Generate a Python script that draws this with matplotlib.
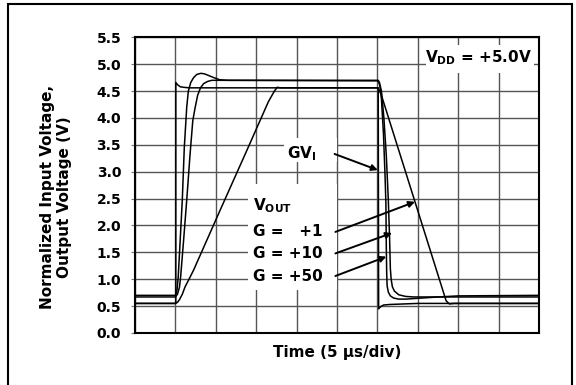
import numpy as np
import matplotlib
matplotlib.use("Agg")
import matplotlib.pyplot as plt
from matplotlib.patches import Rectangle

plt.rcParams['font.family'] = ['DejaVu Sans']
plt.rcParams['font.weight'] = 'bold'
plt.rcParams['mathtext.default'] = 'bf'

# time in divisions (5 us/div), voltage in V
t_gvi = [0, 1.01, 1.01, 1.05, 1.12, 1.2, 1.35, 6.02, 6.03, 6.08, 6.15, 6.3, 7.0, 10]
v_gvi = [0.55, 0.55, 4.66, 4.62, 4.58, 4.57, 4.56, 4.56, 0.45, 0.49, 0.52, 0.53, 0.55, 0.55]

t_g1 = [0, 1.0, 1.05, 1.1, 1.17, 1.24, 1.35, 1.45, 2.11, 2.8, 3.3, 3.45, 3.52, 3.6,
        6.02, 6.1, 6.93, 7.7, 7.78, 7.9, 10]
v_g1 = [0.55, 0.55, 0.57, 0.62, 0.72, 0.86, 1.02, 1.17, 2.29, 3.45, 4.3, 4.5, 4.57, 4.56,
        4.56, 4.42, 2.44, 0.6, 0.54, 0.55, 0.55]

t_g10 = [0, 1.0, 1.05, 1.1, 1.13, 1.2, 1.28, 1.36, 1.43, 1.49, 1.55, 1.62, 1.7, 1.8, 1.9, 2.2,
         6.02, 6.05, 6.1, 6.16, 6.22, 6.27, 6.3, 6.32, 6.34, 6.37, 6.42, 6.53, 6.7, 6.9, 7.5, 10]
v_g10 = [0.67, 0.67, 0.72, 0.85, 1.05, 1.7, 2.47, 3.3, 3.95, 4.2, 4.42, 4.56, 4.64, 4.68, 4.7, 4.7,
         4.7, 4.66, 4.5, 4.0, 3.3, 2.47, 1.8, 1.2, 1.0, 0.86, 0.78, 0.71, 0.68, 0.67, 0.67, 0.67]

t_g50 = [0, 1.0, 1.04, 1.07, 1.12, 1.17, 1.22, 1.28, 1.32, 1.38, 1.45, 1.53, 1.63, 1.72, 1.82,
         1.95, 2.1, 2.3, 6.02, 6.06, 6.1, 6.15, 6.19, 6.21, 6.22, 6.23, 6.24, 6.27, 6.32, 6.4,
         6.53, 6.7, 7.0, 7.5, 8.0, 10]
v_g50 = [0.70, 0.70, 0.8, 1.05, 1.75, 2.47, 3.45, 4.2, 4.5, 4.66, 4.75, 4.81, 4.83, 4.82, 4.79,
         4.75, 4.71, 4.70, 4.69, 4.6, 4.35, 3.7, 2.9, 2.4, 1.6, 1.1, 0.88, 0.76, 0.69, 0.65,
         0.63, 0.63, 0.645, 0.67, 0.69, 0.70]

y_ticks = np.arange(0, 5.51, 0.5)

fig = plt.figure(figsize=(5.76, 3.85), dpi=100)
ax = fig.add_axes([0.2344, 0.1351, 0.7014, 0.768])

for t, v in [(t_gvi, v_gvi), (t_g1, v_g1), (t_g10, v_g10), (t_g50, v_g50)]:
    ax.plot(t, v, color='black', lw=1.1, zorder=3)

ax.set_xlim(0, 10)
ax.set_ylim(0, 5.5)
ax.set_xticks(range(11))
ax.set_yticks(y_ticks)
ax.set_yticklabels([f"{y:.1f}" for y in y_ticks], fontsize=10, fontweight='bold')
ax.tick_params(axis='x', length=0, labelbottom=False)
ax.tick_params(axis='y', length=3, pad=7, color='#777777')
ax.grid(True, color='#555555', lw=1.0, zorder=0)
ax.set_axisbelow(True)
for s in ax.spines.values():
    s.set_linewidth(1.5)
    s.set_zorder(4)

ax.set_xlabel("Time (5 µs/div)", fontsize=11, fontweight='bold', va='center')
ax.xaxis.set_label_coords(0.5, -0.066)
ax.set_ylabel("Normalized Input Voltage,\nOutput Voltage (V)", fontsize=11,
              fontweight='bold', va='center', ha='center')
ax.yaxis.set_label_coords(-0.196, 0.46)

# white backgrounds behind the labels
for x0, y0, w, h in [(7.2, 4.83, 2.68, 0.52), (3.7, 3.18, 1.29, 0.44), (2.8, 0.8, 2.19, 1.97)]:
    ax.add_patch(Rectangle((x0, y0), w, h, fc='white', ec='none', zorder=2))

ax.text(8.51, 5.12, r"V$_{DD}$ = +5.0V", fontsize=11, fontweight='bold',
        ha='center', va='center', zorder=5)
ax.text(4.12, 3.33, r"GV$_{I}$", fontsize=11, fontweight='bold',
        ha='center', va='center', zorder=5)
ax.text(2.92, 2.36, r"V$_{OUT}$", fontsize=11, fontweight='bold', ha='left', va='center', zorder=5)
ax.text(2.92, 1.88, "G =   +1", fontsize=11, fontweight='bold', ha='left', va='center', zorder=5)
ax.text(2.92, 1.47, "G = +10", fontsize=11, fontweight='bold', ha='left', va='center', zorder=5)
ax.text(2.92, 1.05, "G = +50", fontsize=11, fontweight='bold', ha='left', va='center', zorder=5)

arrow = dict(arrowstyle='-|>', color='black', lw=1.4, mutation_scale=9, shrinkA=0, shrinkB=0)
ax.annotate("", xy=(6.01, 3.03), xytext=(4.94, 3.33), arrowprops=arrow, zorder=5)
ax.annotate("", xy=(6.93, 2.44), xytext=(4.96, 1.88), arrowprops=arrow, zorder=5)
ax.annotate("", xy=(6.36, 1.86), xytext=(4.96, 1.48), arrowprops=arrow, zorder=5)
ax.annotate("", xy=(6.22, 1.42), xytext=(4.96, 1.06), arrowprops=arrow, zorder=5)

# frame round the whole figure
fig.patches.append(Rectangle((8 / 576, -0.1), 564 / 576, 1.1 - 4 / 385, fill=False,
                             ec='black', lw=1.5, transform=fig.transFigure))

fig.savefig("out.png", dpi=100)
